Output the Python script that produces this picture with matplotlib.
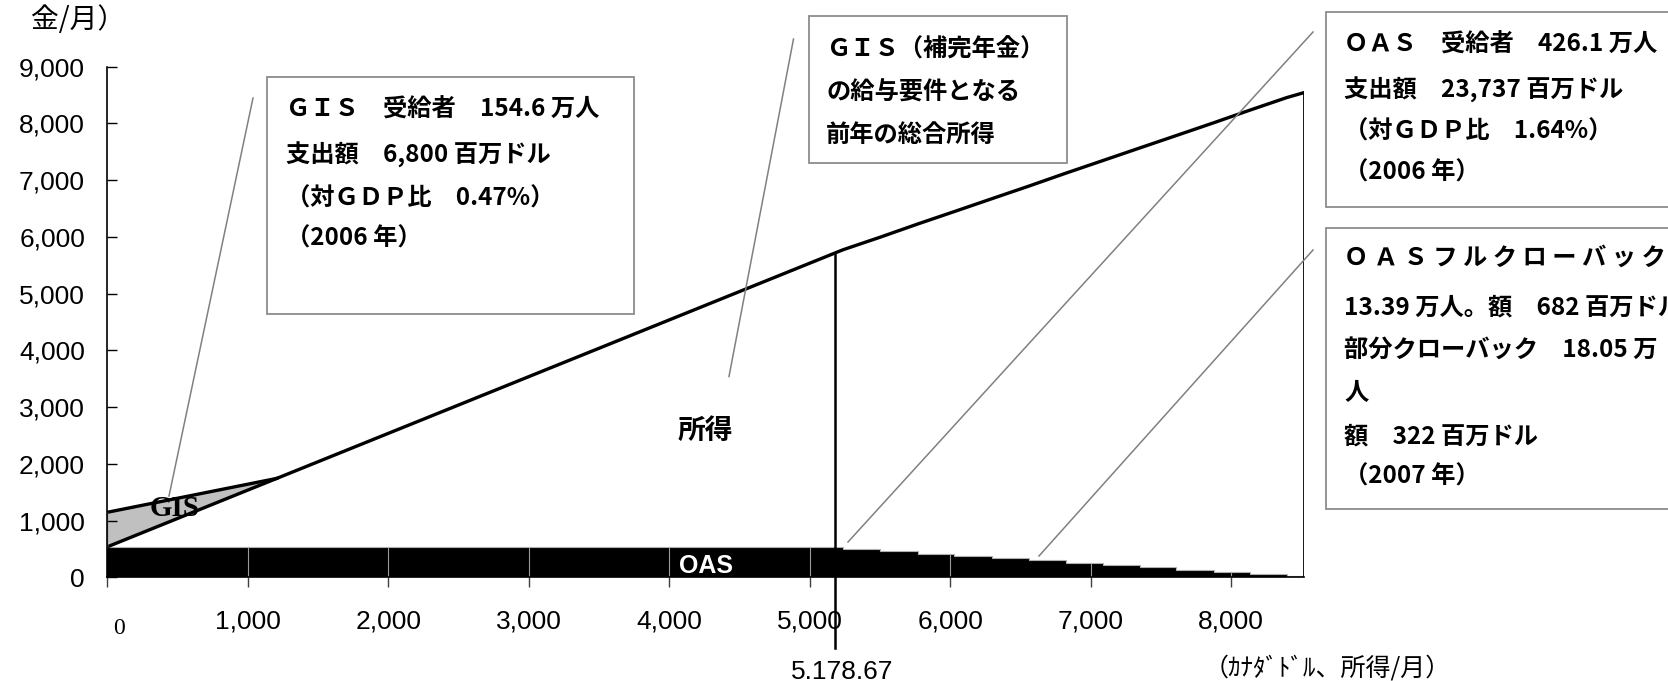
import numpy as np
import matplotlib
matplotlib.use('Agg')
import matplotlib.pyplot as plt
from matplotlib.patches import Rectangle
from matplotlib.lines import Line2D

plt.rcParams['font.family'] = ['Noto Sans CJK JP', 'DejaVu Sans']

# OAS: 所得 5,178.67 ドルを超えると段階的にクローバック
oas_edges = [0, 5236, 5500, 5770, 6028, 6298, 6560, 6822, 7084, 7350, 7608, 7874, 8132, 8394, 8516]
oas_levels = [537, 494, 459, 418, 377, 336, 301, 260, 219, 178, 137, 102, 61, 26]
# GIS: 所得に応じて減額
gis_income = [0, 1206]
gis_amount = [609, 0]
threshold = 5178.67

y_ticks = [0, 1000, 2000, 3000, 4000, 5000, 6000, 7000, 8000, 9000]
x_ticks = [0, 1000, 2000, 3000, 4000, 5000, 6000, 7000, 8000]

W, H = 1668, 681
fig = plt.figure(figsize=(W / 100, H / 100), dpi=100)
ax = fig.add_axes([107.3 / W, 1 - 577.3 / H, (1303.8 - 107.3) / W, (577.3 - 66.7) / H])

edges = np.array(oas_edges, dtype=float)
levels = np.array(oas_levels, dtype=float)
sx = np.repeat(edges, 2)[1:-1]
sy = np.repeat(levels, 2)

# OAS (黒)
ax.fill_between(sx, 0, sy, color='black', lw=0)
ax.plot(sx, sy, color='#b0b0b0', lw=0.8)
idx = np.searchsorted(edges, x_ticks[1:], side='right') - 1
ax.vlines(x_ticks[1:], 0, levels[idx], colors='#9a9a9a', lw=0.8)

# 所得 (白) の上端 = 所得 + OAS
tx = np.concatenate([[edges[0]], edges[1:]])
ty = np.concatenate([[levels[0]], edges[1:] + levels])
ax.plot(tx, ty, color='black', lw=2.4, solid_joinstyle='miter')
ax.plot([edges[-1], edges[-1]], [0, ty[-1]], color='black', lw=2)

# GIS (灰色)
gx = np.array(gis_income, dtype=float)
base = levels[0] + gx
top = base + np.array(gis_amount)
ax.fill_between(gx, base, top, color='#c0c0c0', lw=0)
ax.plot(gx, top, color='black', lw=2.4)
ax.plot([0, 0], [base[0], top[0]], color='#808080', lw=1)

# 5,178.67 の縦線
ax.plot([threshold, threshold], [-1240, threshold + levels[0]], color='black', lw=1.8, clip_on=False)

ax.set_xlim(0, edges[-1])
ax.set_ylim(0, 9000)
ax.spines['top'].set_visible(False)
ax.spines['right'].set_visible(False)
ax.spines['left'].set_linewidth(1.2)
ax.spines['bottom'].set_linewidth(1.2)
ax.set_yticks(y_ticks)
ax.set_yticklabels([f'{v:,}' for v in y_ticks], family='Liberation Sans', fontsize=19)
ax.set_xticks(x_ticks)
ax.set_xticklabels([''] + [f'{v:,}' for v in x_ticks[1:]], family='Liberation Sans', fontsize=19)
ax.tick_params(axis='y', direction='in', length=7, width=1, pad=16)
ax.tick_params(axis='x', direction='out', length=7, width=1, color='#404040', pad=16)


def ftext(x, y, s, **kw):
    kw.setdefault('va', 'center')
    fig.text(x / W, 1 - y / H, s, **kw)


def fbox(x0, y0, x1, y1):
    fig.patches.append(Rectangle((x0 / W, 1 - y1 / H), (x1 - x0) / W, (y1 - y0) / H,
                                 transform=fig.transFigure, facecolor='white',
                                 edgecolor='#8c8c8c', lw=1.3, zorder=2))


def fline(x0, y0, x1, y1):
    fig.lines.append(Line2D([x0 / W, x1 / W], [1 - y0 / H, 1 - y1 / H],
                            transform=fig.transFigure, color='#808080', lw=1.1, zorder=2))


fbox(267, 77, 634, 314)
fbox(808.5, 16, 1067, 163)
fbox(1326, 12, 1690, 207)
fbox(1326, 228, 1690, 509)

fline(253, 98, 169, 496)
fline(793.5, 39, 729, 376.5)
fline(1313, 32, 848, 542)
fline(1313, 250, 1039, 556)

bold = dict(fontsize=17.5, fontweight='bold', zorder=4)
box1 = ['ＧＩＳ　受給者　154.6 万人', '支出額　6,800 百万ドル', '（対ＧＤＰ比　0.47%）', '（2006 年）']
for s, y in zip(box1, [110, 155, 199, 239]):
    ftext(286, y, s, **bold)
box2 = ['ＧＩＳ（補完年金）', 'の給与要件となる', '前年の総合所得']
for s, y in zip(box2, [50, 93, 135]):
    ftext(826, y, s, **bold)
box3 = ['ＯＡＳ　受給者　426.1 万人', '支出額　23,737 百万ドル', '（対ＧＤＰ比　1.64%）', '（2006 年）']
for s, y in zip(box3, [45, 90, 132, 173]):
    ftext(1344, y, s, **bold)
box4 = ['Ｏ Ａ Ｓ フ ル ク ロ ー バ ッ ク', '13.39 万人。額　682 百万ドル', '部分クローバック　18.05 万', '人',
        '額　322 百万ドル', '（2007 年）']
for s, y in zip(box4, [258, 308, 350, 393, 437, 477]):
    ftext(1344, y, s, **bold)

ftext(31, 20, '金/月）', fontsize=20)
ftext(1204, 668, '（ｶﾅﾀﾞﾄﾞﾙ、所得/月）', fontsize=18)
ftext(842, 672, '5.178.67', ha='center', family='Liberation Sans', fontsize=19)
ftext(119, 628, '0', ha='center', family='Liberation Serif', fontsize=17)
ftext(174.5, 509, 'GIS', ha='center', family='Liberation Serif', fontsize=21, fontweight='bold')
ftext(705, 431, '所得', ha='center', fontsize=20, fontweight='bold')
ftext(706, 566, 'OAS', ha='center', color='white', family='Liberation Sans', fontsize=18, fontweight='bold')

fig.savefig('out.png', dpi=100)
